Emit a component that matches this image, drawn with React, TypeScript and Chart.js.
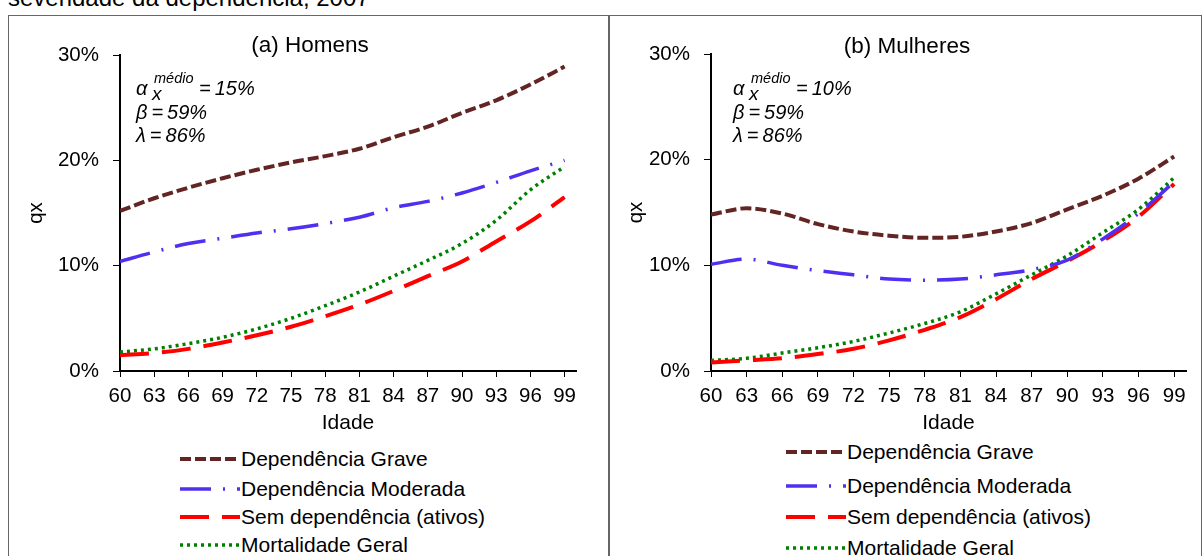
import React, { useEffect, useRef } from "react";
import { Chart, registerables } from "chart.js";

Chart.register(...registerables);

// ---------- data ----------
const AGES = [60, 63, 66, 69, 72, 75, 78, 81, 84, 87, 90, 93, 96, 99];
const X_TICKS = [60, 63, 66, 69, 72, 75, 78, 81, 84, 87, 90, 93, 96, 99];
const Y_TICKS = [0, 10, 20, 30];
const SERIES_LABELS = [
  "Dependência Grave",
  "Dependência Moderada",
  "Sem dependência (ativos)",
  "Mortalidade Geral",
];

const HOMENS_GRAVE = [15.2, 16.4, 17.4, 18.3, 19.1, 19.8, 20.4, 21.1, 22.2, 23.2, 24.5, 25.7, 27.2, 28.9];
const HOMENS_MODERADA = [10.4, 11.3, 12.1, 12.6, 13.1, 13.5, 14.0, 14.6, 15.5, 16.1, 16.9, 17.9, 19.0, 20.0];
const HOMENS_SEM_DEP = [1.5, 1.7, 2.1, 2.7, 3.4, 4.2, 5.2, 6.3, 7.6, 9.0, 10.4, 12.3, 14.2, 16.5];
const HOMENS_GERAL = [1.8, 2.1, 2.6, 3.2, 4.0, 5.0, 6.2, 7.5, 9.0, 10.5, 12.1, 14.3, 17.2, 19.4];

const MULHERES_GRAVE = [14.8, 15.4, 14.9, 13.9, 13.2, 12.8, 12.6, 12.7, 13.2, 14.0, 15.3, 16.6, 18.2, 20.3];
const MULHERES_MODERADA = [10.1, 10.6, 10.0, 9.5, 9.1, 8.7, 8.6, 8.7, 9.1, 9.6, 10.5, 12.5, 14.9, 17.9];
const MULHERES_SEM_DEP = [0.8, 1.0, 1.2, 1.6, 2.1, 2.9, 3.9, 5.1, 6.8, 8.7, 10.4, 12.3, 14.6, 17.7];
const MULHERES_GERAL = [1.0, 1.2, 1.7, 2.2, 2.8, 3.6, 4.5, 5.6, 7.3, 9.1, 10.9, 13.1, 15.3, 18.3];

const HOMENS_ALPHA = "15%";
const MULHERES_ALPHA = "10%";
const BETA = "59%";
const LAMBDA = "86%";

// ---------- styles ----------
const FONT = "'Liberation Sans', Arial, Helvetica, sans-serif";
const STYLES = [
  { color: "#632523", width: 4, dash: [11, 4] },
  { color: "#5030F0", width: 3.5, dash: [31, 12, 2, 12] },
  { color: "#FF0000", width: 4, dash: [29, 13] },
  { color: "#008000", width: 3.5, dash: [3, 4] },
];

Chart.defaults.font.family = FONT;
Chart.defaults.color = "#000";

type PanelProps = {
  canvasLeft: number;
  canvasWidth: number;
  yAxisWidth: number;
  padTop: number;
  padRight: number;
  yTitlePad: number;
  series: number[][];
};

function PanelChart(p: PanelProps) {
  const ref = useRef<HTMLCanvasElement | null>(null);
  useEffect(() => {
    if (!ref.current) return;
    const chart = new Chart(ref.current, {
      type: "line",
      data: {
        datasets: p.series.map((s, i) => ({
          label: SERIES_LABELS[i],
          data: AGES.map((a, j) => ({ x: a, y: s[j] })),
          borderColor: STYLES[i].color,
          backgroundColor: STYLES[i].color,
          borderWidth: STYLES[i].width,
          borderDash: STYLES[i].dash,
          borderCapStyle: "butt",
          pointRadius: 0,
          cubicInterpolationMode: "monotone",
          fill: false,
        })),
      },
      options: {
        animation: false,
        responsive: false,
        maintainAspectRatio: false,
        layout: { padding: { top: p.padTop, right: p.padRight, left: 0, bottom: 0 } },
        plugins: { legend: { display: false }, tooltip: { enabled: false } },
        scales: {
          x: {
            type: "linear",
            min: 60,
            max: 100,
            afterBuildTicks: (s: any) => {
              s.ticks = X_TICKS.map((v) => ({ value: v }));
            },
            afterFit: (s: any) => {
              s.height = 65;
            },
            ticks: {
              font: { size: 20.5 },
              color: "#000",
              padding: 7,
              maxRotation: 0,
              autoSkip: false,
            },
            grid: { drawOnChartArea: false, tickLength: 6, color: "#000", tickWidth: 1 },
            border: { color: "#000", width: 2 },
            title: {
              display: true,
              text: "Idade",
              font: { size: 21 },
              color: "#000",
              padding: { top: 0, bottom: 0 },
            },
          },
          y: {
            type: "linear",
            min: 0,
            max: 30,
            afterBuildTicks: (s: any) => {
              s.ticks = Y_TICKS.map((v) => ({ value: v }));
            },
            afterFit: (s: any) => {
              s.width = p.yAxisWidth;
            },
            ticks: {
              font: { size: 20.5 },
              color: "#000",
              padding: 14,
              callback: (v: any) => v + "%",
            },
            grid: { drawOnChartArea: false, tickLength: 7, color: "#000", tickWidth: 1 },
            border: { color: "#000", width: 2 },
            title: {
              display: true,
              text: "qx",
              font: { size: 20.5 },
              color: "#000",
              padding: { top: p.yTitlePad, bottom: 0 },
            },
          },
        },
      } as any,
    });
    return () => chart.destroy();
  }, []);
  return (
    <canvas
      ref={ref}
      width={p.canvasWidth}
      height={420}
      style={{ position: "absolute", left: p.canvasLeft, top: 16, width: p.canvasWidth, height: 420, display: "block" }}
    />
  );
}

function Txt(props: { x: number; base: number; size: number; italic?: boolean; center?: boolean; children: any }) {
  const { x, base, size, italic, center, children } = props;
  return (
    <div
      style={{
        position: "absolute",
        left: x,
        top: base - 0.8465 * size,
        fontSize: size,
        lineHeight: size + "px",
        fontStyle: italic ? "italic" : "normal",
        fontFamily: FONT,
        whiteSpace: "nowrap",
        color: "#000",
        transform: center ? "translateX(-50%)" : undefined,
      }}
    >
      {children}
    </div>
  );
}

function Params(props: { x: number; alpha: string }) {
  const x = props.x;
  return (
    <>
      <Txt x={x} base={95} size={20} italic>α</Txt>
      <Txt x={x + 18} base={83} size={14.5} italic>médio</Txt>
      <Txt x={x + 16} base={100} size={19} italic>x</Txt>
      <Txt x={x + 63} base={95} size={20} italic>{"=\u2009" + props.alpha}</Txt>
      <Txt x={x} base={119} size={20} italic>{"β\u2009=\u2009" + BETA}</Txt>
      <Txt x={x} base={142} size={20} italic>{"λ\u2009=\u2009" + LAMBDA}</Txt>
    </>
  );
}

function Legend(props: { x: number; rows: number[] }) {
  return (
    <>
      {SERIES_LABELS.map((lab, i) => (
        <React.Fragment key={lab}>
          <svg
            width={60}
            height={12}
            style={{ position: "absolute", left: props.x, top: props.rows[i] - 6 }}
          >
            <line
              x1={0}
              y1={6}
              x2={60}
              y2={6}
              stroke={STYLES[i].color}
              strokeWidth={STYLES[i].width}
              strokeDasharray={STYLES[i].dash.join(" ")}
            />
          </svg>
          <div
            style={{
              position: "absolute",
              left: props.x + 61,
              top: props.rows[i] - 11,
              fontSize: 21,
              lineHeight: "21px",
              fontFamily: FONT,
              whiteSpace: "nowrap",
              color: "#000",
            }}
          >
            {lab}
          </div>
        </React.Fragment>
      ))}
    </>
  );
}

export default function App() {
  return (
    <div
      style={{
        position: "fixed",
        left: 0,
        top: 0,
        width: 1202,
        height: 556,
        overflow: "hidden",
        background: "#fff",
        fontFamily: FONT,
      }}
    >
      <Txt x={8} base={6} size={24}>severidade da dependência, 2007</Txt>
      <div
        style={{
          position: "absolute",
          left: 8,
          top: 15,
          width: 601,
          height: 600,
          border: "1px solid #666",
          boxSizing: "border-box",
        }}
      />
      <div
        style={{
          position: "absolute",
          left: 609,
          top: 15,
          width: 593,
          height: 600,
          border: "1px solid #666",
          boxSizing: "border-box",
        }}
      />
      <PanelChart
        canvasLeft={9}
        canvasWidth={599}
        yAxisWidth={111}
        padTop={39}
        padRight={32}
        yTitlePad={15}
        series={[HOMENS_GRAVE, HOMENS_MODERADA, HOMENS_SEM_DEP, HOMENS_GERAL]}
      />
      <PanelChart
        canvasLeft={610}
        canvasWidth={590}
        yAxisWidth={101}
        padTop={38}
        padRight={14}
        yTitlePad={14}
        series={[MULHERES_GRAVE, MULHERES_MODERADA, MULHERES_SEM_DEP, MULHERES_GERAL]}
      />
      <Txt x={310} base={53} size={22.5} center>(a) Homens</Txt>
      <Txt x={907} base={54} size={22.5} center>(b) Mulheres</Txt>
      <Params x={136} alpha={HOMENS_ALPHA} />
      <Params x={733} alpha={MULHERES_ALPHA} />
      <Legend x={180} rows={[459, 489, 517, 545]} />
      <Legend x={786} rows={[452, 486, 517, 548]} />
    </div>
  );
}
